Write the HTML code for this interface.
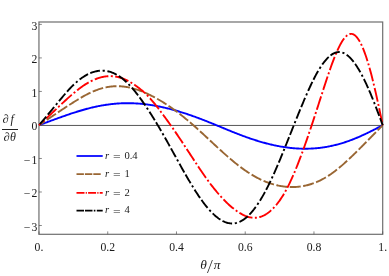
<!DOCTYPE html>
<html><head><meta charset="utf-8"><title>plot</title>
<style>
html,body{margin:0;padding:0;background:#fff;}
body{width:389px;height:276px;position:relative;overflow:hidden;font-family:"Liberation Serif",serif;color:#1a1a1a;}
.t{position:absolute;white-space:nowrap;line-height:1;filter:grayscale(1);}
.yl{font-size:11.7px;text-align:right;width:30px;left:7.4px;}
.xl{font-size:11.7px;text-align:center;width:40px;}
.lg{font-size:10.6px;}
i{font-style:italic;}
.eq{display:inline-block;transform:scaleX(1.28);transform-origin:0 50%;}
</style></head><body>
<svg width="389" height="276" viewBox="0 0 389 276" style="position:absolute;left:0;top:0">
<line x1="38.95" x2="382.7" y1="125.45" y2="125.45" stroke="#444" stroke-width="0.9"/>
<rect x="38.95" y="22.0" width="343.75" height="212.30" fill="none" stroke="#6e6e6e" stroke-width="1.2"/>
<path d="M38.95 225.51h2.9 M38.95 191.99h2.9 M38.95 158.47h2.9 M38.95 124.95h2.9 M38.95 91.43h2.9 M38.95 57.91h2.9 M38.95 24.39h2.9 M39.00 234.3v-2.9 M107.74 234.3v-2.9 M176.48 234.3v-2.9 M245.22 234.3v-2.9 M313.96 234.3v-2.9 M382.70 234.3v-2.9" stroke="#555" stroke-width="0.7" fill="none"/>
<g fill="none" stroke-width="1.9" stroke-linejoin="round">
<polyline points="39.00,125.20 39.86,124.87 40.72,124.55 41.58,124.23 42.44,123.91 43.30,123.59 44.16,123.27 45.01,122.95 45.87,122.63 46.73,122.31 47.59,121.99 48.45,121.68 49.31,121.36 50.17,121.04 51.03,120.72 51.89,120.41 52.75,120.09 53.61,119.78 54.47,119.46 55.33,119.15 56.19,118.84 57.04,118.53 57.90,118.22 58.76,117.91 59.62,117.60 60.48,117.29 61.34,116.99 62.20,116.68 63.06,116.38 63.92,116.08 64.78,115.78 65.64,115.48 66.50,115.18 67.36,114.88 68.21,114.59 69.07,114.30 69.93,114.01 70.79,113.72 71.65,113.44 72.51,113.16 73.37,112.88 74.23,112.60 75.09,112.32 75.95,112.05 76.81,111.78 77.67,111.51 78.53,111.25 79.38,110.99 80.24,110.73 81.10,110.48 81.96,110.23 82.82,109.98 83.68,109.73 84.54,109.49 85.40,109.26 86.26,109.02 87.12,108.79 87.98,108.57 88.84,108.35 89.70,108.13 90.56,107.91 91.41,107.70 92.27,107.50 93.13,107.30 93.99,107.10 94.85,106.90 95.71,106.72 96.57,106.53 97.43,106.35 98.29,106.18 99.15,106.01 100.01,105.84 100.87,105.68 101.73,105.52 102.58,105.37 103.44,105.23 104.30,105.08 105.16,104.95 106.02,104.81 106.88,104.69 107.74,104.57 108.60,104.45 109.46,104.34 110.32,104.23 111.18,104.13 112.04,104.03 112.90,103.94 113.75,103.85 114.61,103.77 115.47,103.69 116.33,103.62 117.19,103.56 118.05,103.50 118.91,103.44 119.77,103.39 120.63,103.35 121.49,103.31 122.35,103.27 123.21,103.24 124.07,103.22 124.92,103.20 125.78,103.19 126.64,103.18 127.50,103.18 128.36,103.18 129.22,103.19 130.08,103.20 130.94,103.22 131.80,103.24 132.66,103.27 133.52,103.30 134.38,103.34 135.24,103.38 136.10,103.43 136.95,103.48 137.81,103.54 138.67,103.60 139.53,103.67 140.39,103.74 141.25,103.82 142.11,103.90 142.97,103.99 143.83,104.08 144.69,104.18 145.55,104.28 146.41,104.39 147.27,104.50 148.12,104.61 148.98,104.73 149.84,104.86 150.70,104.99 151.56,105.12 152.42,105.26 153.28,105.40 154.14,105.55 155.00,105.70 155.86,105.86 156.72,106.02 157.58,106.18 158.44,106.35 159.30,106.52 160.15,106.70 161.01,106.88 161.87,107.07 162.73,107.25 163.59,107.45 164.45,107.64 165.31,107.84 166.17,108.05 167.03,108.25 167.89,108.47 168.75,108.68 169.61,108.90 170.47,109.12 171.32,109.35 172.18,109.58 173.04,109.81 173.90,110.04 174.76,110.28 175.62,110.53 176.48,110.77 177.34,111.02 178.20,111.27 179.06,111.53 179.92,111.79 180.78,112.05 181.64,112.32 182.49,112.58 183.35,112.86 184.21,113.13 185.07,113.41 185.93,113.69 186.79,113.97 187.65,114.26 188.51,114.55 189.37,114.84 190.23,115.14 191.09,115.44 191.95,115.74 192.81,116.04 193.66,116.35 194.52,116.66 195.38,116.97 196.24,117.28 197.10,117.60 197.96,117.92 198.82,118.24 199.68,118.56 200.54,118.89 201.40,119.22 202.26,119.55 203.12,119.88 203.98,120.22 204.84,120.55 205.69,120.89 206.55,121.23 207.41,121.57 208.27,121.91 209.13,122.26 209.99,122.60 210.85,122.95 211.71,123.30 212.57,123.65 213.43,124.00 214.29,124.35 215.15,124.70 216.01,125.06 216.86,125.41 217.72,125.76 218.58,126.12 219.44,126.47 220.30,126.83 221.16,127.18 222.02,127.54 222.88,127.90 223.74,128.25 224.60,128.61 225.46,128.96 226.32,129.32 227.18,129.67 228.03,130.02 228.89,130.37 229.75,130.72 230.61,131.07 231.47,131.42 232.33,131.77 233.19,132.11 234.05,132.46 234.91,132.80 235.77,133.14 236.63,133.47 237.49,133.81 238.35,134.14 239.21,134.47 240.06,134.80 240.92,135.13 241.78,135.45 242.64,135.77 243.50,136.09 244.36,136.41 245.22,136.72 246.08,137.03 246.94,137.34 247.80,137.64 248.66,137.94 249.52,138.24 250.38,138.54 251.23,138.83 252.09,139.12 252.95,139.40 253.81,139.68 254.67,139.96 255.53,140.24 256.39,140.51 257.25,140.78 258.11,141.04 258.97,141.30 259.83,141.56 260.69,141.81 261.55,142.06 262.40,142.30 263.26,142.55 264.12,142.78 264.98,143.02 265.84,143.24 266.70,143.47 267.56,143.69 268.42,143.91 269.28,144.12 270.14,144.33 271.00,144.53 271.86,144.73 272.72,144.93 273.58,145.12 274.43,145.31 275.29,145.49 276.15,145.67 277.01,145.84 277.87,146.01 278.73,146.17 279.59,146.33 280.45,146.49 281.31,146.63 282.17,146.78 283.03,146.92 283.89,147.05 284.75,147.18 285.60,147.31 286.46,147.43 287.32,147.54 288.18,147.65 289.04,147.76 289.90,147.86 290.76,147.95 291.62,148.04 292.48,148.13 293.34,148.20 294.20,148.28 295.06,148.35 295.92,148.41 296.77,148.46 297.63,148.52 298.49,148.56 299.35,148.60 300.21,148.64 301.07,148.67 301.93,148.69 302.79,148.71 303.65,148.72 304.51,148.73 305.37,148.73 306.23,148.72 307.09,148.71 307.95,148.69 308.80,148.67 309.66,148.64 310.52,148.61 311.38,148.57 312.24,148.52 313.10,148.47 313.96,148.41 314.82,148.35 315.68,148.28 316.54,148.20 317.40,148.12 318.26,148.03 319.12,147.94 319.97,147.84 320.83,147.73 321.69,147.62 322.55,147.50 323.41,147.38 324.27,147.25 325.13,147.11 325.99,146.97 326.85,146.82 327.71,146.66 328.57,146.50 329.43,146.34 330.29,146.16 331.14,145.98 332.00,145.80 332.86,145.61 333.72,145.41 334.58,145.20 335.44,144.99 336.30,144.78 337.16,144.56 338.02,144.33 338.88,144.09 339.74,143.85 340.60,143.60 341.46,143.35 342.32,143.09 343.17,142.82 344.03,142.55 344.89,142.27 345.75,141.98 346.61,141.69 347.47,141.39 348.33,141.09 349.19,140.78 350.05,140.47 350.91,140.15 351.77,139.82 352.63,139.49 353.49,139.15 354.34,138.81 355.20,138.46 356.06,138.11 356.92,137.75 357.78,137.38 358.64,137.01 359.50,136.64 360.36,136.26 361.22,135.88 362.08,135.49 362.94,135.10 363.80,134.71 364.66,134.31 365.51,133.90 366.37,133.49 367.23,133.08 368.09,132.67 368.95,132.25 369.81,131.83 370.67,131.40 371.53,130.97 372.39,130.54 373.25,130.11 374.11,129.67 374.97,129.24 375.83,128.80 376.69,128.36 377.54,127.91 378.40,127.47 379.26,127.03 380.12,126.58 380.98,126.14 381.84,125.69 382.70,125.20" stroke="#0000ff"/>
<polyline points="39.00,125.20 39.86,124.61 40.72,124.03 41.58,123.45 42.44,122.87 43.30,122.29 44.16,121.70 45.01,121.12 45.87,120.54 46.73,119.96 47.59,119.38 48.45,118.80 49.31,118.22 50.17,117.64 51.03,117.06 51.89,116.48 52.75,115.90 53.61,115.32 54.47,114.74 55.33,114.17 56.19,113.59 57.04,113.01 57.90,112.44 58.76,111.87 59.62,111.29 60.48,110.72 61.34,110.15 62.20,109.58 63.06,109.02 63.92,108.45 64.78,107.89 65.64,107.32 66.50,106.76 67.36,106.20 68.21,105.65 69.07,105.09 69.93,104.54 70.79,103.99 71.65,103.44 72.51,102.89 73.37,102.35 74.23,101.81 75.09,101.28 75.95,100.75 76.81,100.22 77.67,99.70 78.53,99.18 79.38,98.66 80.24,98.15 81.10,97.65 81.96,97.15 82.82,96.66 83.68,96.18 84.54,95.70 85.40,95.23 86.26,94.77 87.12,94.32 87.98,93.88 88.84,93.45 89.70,93.03 90.56,92.62 91.41,92.22 92.27,91.84 93.13,91.46 93.99,91.10 94.85,90.75 95.71,90.41 96.57,90.08 97.43,89.77 98.29,89.47 99.15,89.18 100.01,88.90 100.87,88.64 101.73,88.39 102.58,88.16 103.44,87.94 104.30,87.73 105.16,87.54 106.02,87.35 106.88,87.19 107.74,87.03 108.60,86.89 109.46,86.76 110.32,86.65 111.18,86.54 112.04,86.46 112.90,86.38 113.75,86.32 114.61,86.27 115.47,86.24 116.33,86.22 117.19,86.21 118.05,86.22 118.91,86.24 119.77,86.27 120.63,86.31 121.49,86.37 122.35,86.45 123.21,86.53 124.07,86.63 124.92,86.74 125.78,86.87 126.64,87.00 127.50,87.15 128.36,87.32 129.22,87.49 130.08,87.68 130.94,87.88 131.80,88.09 132.66,88.31 133.52,88.55 134.38,88.80 135.24,89.05 136.10,89.32 136.95,89.60 137.81,89.89 138.67,90.19 139.53,90.50 140.39,90.82 141.25,91.15 142.11,91.49 142.97,91.84 143.83,92.20 144.69,92.57 145.55,92.94 146.41,93.32 147.27,93.71 148.12,94.11 148.98,94.52 149.84,94.94 150.70,95.36 151.56,95.79 152.42,96.23 153.28,96.67 154.14,97.12 155.00,97.58 155.86,98.05 156.72,98.53 157.58,99.01 158.44,99.50 159.30,99.99 160.15,100.50 161.01,101.01 161.87,101.53 162.73,102.05 163.59,102.59 164.45,103.13 165.31,103.68 166.17,104.23 167.03,104.79 167.89,105.36 168.75,105.94 169.61,106.53 170.47,107.12 171.32,107.72 172.18,108.32 173.04,108.94 173.90,109.56 174.76,110.18 175.62,110.82 176.48,111.46 177.34,112.10 178.20,112.76 179.06,113.42 179.92,114.08 180.78,114.76 181.64,115.43 182.49,116.12 183.35,116.81 184.21,117.50 185.07,118.21 185.93,118.91 186.79,119.63 187.65,120.34 188.51,121.07 189.37,121.80 190.23,122.53 191.09,123.27 191.95,124.02 192.81,124.76 193.66,125.52 194.52,126.28 195.38,127.04 196.24,127.81 197.10,128.58 197.96,129.35 198.82,130.13 199.68,130.91 200.54,131.70 201.40,132.49 202.26,133.28 203.12,134.07 203.98,134.86 204.84,135.66 205.69,136.46 206.55,137.26 207.41,138.06 208.27,138.86 209.13,139.66 209.99,140.46 210.85,141.26 211.71,142.06 212.57,142.86 213.43,143.66 214.29,144.46 215.15,145.26 216.01,146.05 216.86,146.85 217.72,147.64 218.58,148.43 219.44,149.22 220.30,150.00 221.16,150.78 222.02,151.56 222.88,152.34 223.74,153.11 224.60,153.88 225.46,154.64 226.32,155.40 227.18,156.15 228.03,156.90 228.89,157.65 229.75,158.38 230.61,159.12 231.47,159.84 232.33,160.56 233.19,161.28 234.05,161.99 234.91,162.69 235.77,163.38 236.63,164.06 237.49,164.74 238.35,165.41 239.21,166.07 240.06,166.73 240.92,167.37 241.78,168.01 242.64,168.64 243.50,169.26 244.36,169.87 245.22,170.47 246.08,171.06 246.94,171.64 247.80,172.21 248.66,172.77 249.52,173.33 250.38,173.87 251.23,174.40 252.09,174.92 252.95,175.43 253.81,175.93 254.67,176.42 255.53,176.90 256.39,177.37 257.25,177.82 258.11,178.27 258.97,178.70 259.83,179.12 260.69,179.54 261.55,179.94 262.40,180.33 263.26,180.70 264.12,181.07 264.98,181.43 265.84,181.77 266.70,182.11 267.56,182.43 268.42,182.74 269.28,183.05 270.14,183.34 271.00,183.62 271.86,183.89 272.72,184.14 273.58,184.39 274.43,184.63 275.29,184.85 276.15,185.07 277.01,185.27 277.87,185.47 278.73,185.65 279.59,185.82 280.45,185.98 281.31,186.13 282.17,186.27 283.03,186.40 283.89,186.51 284.75,186.62 285.60,186.71 286.46,186.79 287.32,186.86 288.18,186.92 289.04,186.97 289.90,187.01 290.76,187.03 291.62,187.05 292.48,187.05 293.34,187.04 294.20,187.01 295.06,186.98 295.92,186.93 296.77,186.88 297.63,186.81 298.49,186.72 299.35,186.63 300.21,186.52 301.07,186.40 301.93,186.27 302.79,186.13 303.65,185.97 304.51,185.80 305.37,185.62 306.23,185.42 307.09,185.21 307.95,184.99 308.80,184.76 309.66,184.51 310.52,184.25 311.38,183.98 312.24,183.70 313.10,183.40 313.96,183.08 314.82,182.76 315.68,182.42 316.54,182.07 317.40,181.70 318.26,181.32 319.12,180.93 319.97,180.52 320.83,180.10 321.69,179.66 322.55,179.21 323.41,178.75 324.27,178.27 325.13,177.78 325.99,177.28 326.85,176.76 327.71,176.22 328.57,175.67 329.43,175.11 330.29,174.53 331.14,173.94 332.00,173.34 332.86,172.72 333.72,172.08 334.58,171.44 335.44,170.78 336.30,170.11 337.16,169.43 338.02,168.74 338.88,168.03 339.74,167.32 340.60,166.59 341.46,165.86 342.32,165.12 343.17,164.36 344.03,163.60 344.89,162.83 345.75,162.05 346.61,161.27 347.47,160.47 348.33,159.67 349.19,158.87 350.05,158.05 350.91,157.23 351.77,156.41 352.63,155.58 353.49,154.75 354.34,153.91 355.20,153.07 356.06,152.22 356.92,151.37 357.78,150.52 358.64,149.67 359.50,148.81 360.36,147.95 361.22,147.09 362.08,146.23 362.94,145.37 363.80,144.50 364.66,143.64 365.51,142.77 366.37,141.90 367.23,141.03 368.09,140.16 368.95,139.28 369.81,138.41 370.67,137.53 371.53,136.66 372.39,135.78 373.25,134.90 374.11,134.02 374.97,133.14 375.83,132.26 376.69,131.38 377.54,130.50 378.40,129.62 379.26,128.74 380.12,127.85 380.98,126.97 381.84,126.09 382.70,125.20" stroke="#996633" stroke-dasharray="11 2.5" stroke-dashoffset="4.05"/>
<polyline points="39.00,125.20 39.86,124.41 40.72,123.61 41.58,122.81 42.44,122.02 43.30,121.22 44.16,120.42 45.01,119.62 45.87,118.82 46.73,118.02 47.59,117.22 48.45,116.41 49.31,115.61 50.17,114.80 51.03,113.99 51.89,113.18 52.75,112.36 53.61,111.55 54.47,110.74 55.33,109.92 56.19,109.11 57.04,108.30 57.90,107.48 58.76,106.67 59.62,105.86 60.48,105.05 61.34,104.24 62.20,103.43 63.06,102.63 63.92,101.83 64.78,101.04 65.64,100.24 66.50,99.46 67.36,98.67 68.21,97.90 69.07,97.13 69.93,96.36 70.79,95.61 71.65,94.86 72.51,94.12 73.37,93.39 74.23,92.66 75.09,91.95 75.95,91.25 76.81,90.56 77.67,89.88 78.53,89.21 79.38,88.55 80.24,87.91 81.10,87.28 81.96,86.67 82.82,86.07 83.68,85.48 84.54,84.91 85.40,84.36 86.26,83.82 87.12,83.31 87.98,82.80 88.84,82.32 89.70,81.85 90.56,81.40 91.41,80.96 92.27,80.55 93.13,80.15 93.99,79.77 94.85,79.41 95.71,79.06 96.57,78.74 97.43,78.43 98.29,78.14 99.15,77.87 100.01,77.62 100.87,77.39 101.73,77.18 102.58,76.99 103.44,76.81 104.30,76.66 105.16,76.53 106.02,76.41 106.88,76.32 107.74,76.25 108.60,76.20 109.46,76.17 110.32,76.16 111.18,76.17 112.04,76.20 112.90,76.26 113.75,76.33 114.61,76.43 115.47,76.55 116.33,76.69 117.19,76.86 118.05,77.04 118.91,77.25 119.77,77.49 120.63,77.74 121.49,78.02 122.35,78.32 123.21,78.65 124.07,79.00 124.92,79.37 125.78,79.76 126.64,80.18 127.50,80.61 128.36,81.07 129.22,81.54 130.08,82.03 130.94,82.54 131.80,83.07 132.66,83.61 133.52,84.16 134.38,84.73 135.24,85.32 136.10,85.92 136.95,86.54 137.81,87.17 138.67,87.83 139.53,88.49 140.39,89.18 141.25,89.88 142.11,90.60 142.97,91.34 143.83,92.10 144.69,92.88 145.55,93.68 146.41,94.51 147.27,95.37 148.12,96.24 148.98,97.15 149.84,98.08 150.70,99.04 151.56,100.02 152.42,101.02 153.28,102.04 154.14,103.09 155.00,104.14 155.86,105.22 156.72,106.31 157.58,107.42 158.44,108.53 159.30,109.66 160.15,110.80 161.01,111.95 161.87,113.11 162.73,114.27 163.59,115.44 164.45,116.61 165.31,117.78 166.17,118.96 167.03,120.15 167.89,121.33 168.75,122.52 169.61,123.72 170.47,124.93 171.32,126.15 172.18,127.37 173.04,128.60 173.90,129.84 174.76,131.09 175.62,132.35 176.48,133.61 177.34,134.88 178.20,136.16 179.06,137.44 179.92,138.72 180.78,140.01 181.64,141.31 182.49,142.61 183.35,143.91 184.21,145.21 185.07,146.52 185.93,147.83 186.79,149.14 187.65,150.45 188.51,151.77 189.37,153.08 190.23,154.39 191.09,155.71 191.95,157.02 192.81,158.33 193.66,159.63 194.52,160.94 195.38,162.24 196.24,163.54 197.10,164.84 197.96,166.13 198.82,167.41 199.68,168.70 200.54,169.97 201.40,171.24 202.26,172.49 203.12,173.74 203.98,174.98 204.84,176.21 205.69,177.43 206.55,178.63 207.41,179.82 208.27,181.00 209.13,182.16 209.99,183.31 210.85,184.45 211.71,185.57 212.57,186.68 213.43,187.77 214.29,188.84 215.15,189.90 216.01,190.95 216.86,191.98 217.72,193.00 218.58,194.00 219.44,194.98 220.30,195.95 221.16,196.90 222.02,197.83 222.88,198.75 223.74,199.65 224.60,200.53 225.46,201.40 226.32,202.25 227.18,203.08 228.03,203.89 228.89,204.68 229.75,205.45 230.61,206.21 231.47,206.94 232.33,207.66 233.19,208.35 234.05,209.03 234.91,209.68 235.77,210.32 236.63,210.93 237.49,211.53 238.35,212.10 239.21,212.65 240.06,213.18 240.92,213.68 241.78,214.16 242.64,214.61 243.50,215.04 244.36,215.43 245.22,215.81 246.08,216.15 246.94,216.46 247.80,216.74 248.66,216.99 249.52,217.21 250.38,217.39 251.23,217.54 252.09,217.66 252.95,217.74 253.81,217.78 254.67,217.79 255.53,217.75 256.39,217.68 257.25,217.57 258.11,217.42 258.97,217.24 259.83,217.01 260.69,216.74 261.55,216.44 262.40,216.09 263.26,215.70 264.12,215.28 264.98,214.81 265.84,214.31 266.70,213.76 267.56,213.17 268.42,212.55 269.28,211.88 270.14,211.17 271.00,210.41 271.86,209.62 272.72,208.79 273.58,207.91 274.43,206.99 275.29,206.03 276.15,205.03 277.01,203.98 277.87,202.90 278.73,201.76 279.59,200.59 280.45,199.36 281.31,198.09 282.17,196.77 283.03,195.40 283.89,193.97 284.75,192.49 285.60,190.96 286.46,189.38 287.32,187.74 288.18,186.06 289.04,184.33 289.90,182.55 290.76,180.72 291.62,178.85 292.48,176.94 293.34,174.98 294.20,172.98 295.06,170.94 295.92,168.86 296.77,166.75 297.63,164.60 298.49,162.41 299.35,160.19 300.21,157.94 301.07,155.65 301.93,153.34 302.79,150.99 303.65,148.62 304.51,146.22 305.37,143.79 306.23,141.34 307.09,138.87 307.95,136.38 308.80,133.86 309.66,131.33 310.52,128.78 311.38,126.21 312.24,123.62 313.10,121.02 313.96,118.41 314.82,115.79 315.68,113.15 316.54,110.51 317.40,107.86 318.26,105.21 319.12,102.56 319.97,99.90 320.83,97.24 321.69,94.59 322.55,91.93 323.41,89.29 324.27,86.65 325.13,84.02 325.99,81.40 326.85,78.81 327.71,76.24 328.57,73.70 329.43,71.19 330.29,68.73 331.14,66.31 332.00,63.93 332.86,61.62 333.72,59.36 334.58,57.16 335.44,55.04 336.30,52.99 337.16,51.01 338.02,49.12 338.88,47.32 339.74,45.61 340.60,44.00 341.46,42.49 342.32,41.09 343.17,39.80 344.03,38.62 344.89,37.57 345.75,36.63 346.61,35.83 347.47,35.16 348.33,34.62 349.19,34.22 350.05,33.96 350.91,33.85 351.77,33.89 352.63,34.08 353.49,34.43 354.34,34.94 355.20,35.59 356.06,36.40 356.92,37.35 357.78,38.46 358.64,39.72 359.50,41.12 360.36,42.67 361.22,44.37 362.08,46.22 362.94,48.20 363.80,50.33 364.66,52.59 365.51,54.99 366.37,57.52 367.23,60.18 368.09,62.97 368.95,65.89 369.81,68.92 370.67,72.07 371.53,75.34 372.39,78.71 373.25,82.19 374.11,85.76 374.97,89.42 375.83,93.16 376.69,96.98 377.54,100.87 378.40,104.82 379.26,108.81 380.12,112.85 380.98,116.92 381.84,121.00 382.70,125.20" stroke="#ff0000" stroke-dasharray="14 2.43 2 2.44" stroke-dashoffset="10.96"/>
<polyline points="39.00,125.20 39.86,124.19 40.72,123.17 41.58,122.16 42.44,121.14 43.30,120.12 44.16,119.10 45.01,118.08 45.87,117.05 46.73,116.02 47.59,114.99 48.45,113.96 49.31,112.92 50.17,111.88 51.03,110.84 51.89,109.80 52.75,108.75 53.61,107.70 54.47,106.65 55.33,105.60 56.19,104.56 57.04,103.51 57.90,102.46 58.76,101.42 59.62,100.38 60.48,99.34 61.34,98.31 62.20,97.28 63.06,96.26 63.92,95.25 64.78,94.25 65.64,93.26 66.50,92.28 67.36,91.31 68.21,90.36 69.07,89.42 69.93,88.50 70.79,87.59 71.65,86.71 72.51,85.85 73.37,85.00 74.23,84.19 75.09,83.39 75.95,82.61 76.81,81.86 77.67,81.13 78.53,80.43 79.38,79.74 80.24,79.08 81.10,78.45 81.96,77.83 82.82,77.24 83.68,76.68 84.54,76.14 85.40,75.62 86.26,75.13 87.12,74.66 87.98,74.22 88.84,73.80 89.70,73.41 90.56,73.04 91.41,72.70 92.27,72.39 93.13,72.10 93.99,71.83 94.85,71.59 95.71,71.38 96.57,71.20 97.43,71.04 98.29,70.90 99.15,70.80 100.01,70.72 100.87,70.67 101.73,70.65 102.58,70.65 103.44,70.68 104.30,70.74 105.16,70.83 106.02,70.94 106.88,71.08 107.74,71.26 108.60,71.45 109.46,71.68 110.32,71.94 111.18,72.22 112.04,72.53 112.90,72.87 113.75,73.24 114.61,73.64 115.47,74.07 116.33,74.53 117.19,75.01 118.05,75.52 118.91,76.07 119.77,76.64 120.63,77.24 121.49,77.87 122.35,78.53 123.21,79.22 124.07,79.94 124.92,80.68 125.78,81.46 126.64,82.26 127.50,83.09 128.36,83.94 129.22,84.82 130.08,85.73 130.94,86.67 131.80,87.63 132.66,88.61 133.52,89.62 134.38,90.66 135.24,91.71 136.10,92.79 136.95,93.89 137.81,95.00 138.67,96.14 139.53,97.30 140.39,98.47 141.25,99.67 142.11,100.87 142.97,102.10 143.83,103.34 144.69,104.59 145.55,105.85 146.41,107.13 147.27,108.43 148.12,109.73 148.98,111.05 149.84,112.38 150.70,113.72 151.56,115.08 152.42,116.44 153.28,117.82 154.14,119.21 155.00,120.62 155.86,122.03 156.72,123.46 157.58,124.89 158.44,126.34 159.30,127.80 160.15,129.27 161.01,130.75 161.87,132.23 162.73,133.73 163.59,135.24 164.45,136.75 165.31,138.27 166.17,139.79 167.03,141.32 167.89,142.86 168.75,144.40 169.61,145.94 170.47,147.49 171.32,149.04 172.18,150.59 173.04,152.15 173.90,153.70 174.76,155.26 175.62,156.82 176.48,158.37 177.34,159.93 178.20,161.48 179.06,163.04 179.92,164.58 180.78,166.13 181.64,167.67 182.49,169.20 183.35,170.73 184.21,172.24 185.07,173.75 185.93,175.25 186.79,176.74 187.65,178.22 188.51,179.69 189.37,181.14 190.23,182.59 191.09,184.02 191.95,185.43 192.81,186.83 193.66,188.22 194.52,189.59 195.38,190.94 196.24,192.27 197.10,193.59 197.96,194.88 198.82,196.16 199.68,197.41 200.54,198.65 201.40,199.86 202.26,201.05 203.12,202.21 203.98,203.36 204.84,204.47 205.69,205.56 206.55,206.62 207.41,207.66 208.27,208.67 209.13,209.65 209.99,210.60 210.85,211.52 211.71,212.41 212.57,213.28 213.43,214.11 214.29,214.91 215.15,215.67 216.01,216.41 216.86,217.11 217.72,217.78 218.58,218.41 219.44,219.01 220.30,219.57 221.16,220.10 222.02,220.59 222.88,221.05 223.74,221.46 224.60,221.84 225.46,222.18 226.32,222.48 227.18,222.75 228.03,222.97 228.89,223.15 229.75,223.29 230.61,223.38 231.47,223.44 232.33,223.45 233.19,223.42 234.05,223.35 234.91,223.23 235.77,223.06 236.63,222.86 237.49,222.61 238.35,222.32 239.21,221.98 240.06,221.60 240.92,221.17 241.78,220.70 242.64,220.19 243.50,219.63 244.36,219.02 245.22,218.38 246.08,217.68 246.94,216.95 247.80,216.17 248.66,215.34 249.52,214.47 250.38,213.55 251.23,212.60 252.09,211.60 252.95,210.56 253.81,209.49 254.67,208.37 255.53,207.22 256.39,206.03 257.25,204.80 258.11,203.53 258.97,202.23 259.83,200.89 260.69,199.51 261.55,198.09 262.40,196.63 263.26,195.14 264.12,193.61 264.98,192.04 265.84,190.43 266.70,188.79 267.56,187.11 268.42,185.39 269.28,183.65 270.14,181.87 271.00,180.06 271.86,178.23 272.72,176.36 273.58,174.47 274.43,172.55 275.29,170.61 276.15,168.65 277.01,166.66 277.87,164.66 278.73,162.63 279.59,160.59 280.45,158.53 281.31,156.45 282.17,154.36 283.03,152.26 283.89,150.15 284.75,148.03 285.60,145.89 286.46,143.75 287.32,141.61 288.18,139.45 289.04,137.30 289.90,135.14 290.76,132.98 291.62,130.82 292.48,128.66 293.34,126.50 294.20,124.35 295.06,122.20 295.92,120.05 296.77,117.92 297.63,115.79 298.49,113.67 299.35,111.57 300.21,109.47 301.07,107.39 301.93,105.33 302.79,103.28 303.65,101.25 304.51,99.23 305.37,97.24 306.23,95.26 307.09,93.31 307.95,91.39 308.80,89.49 309.66,87.61 310.52,85.76 311.38,83.94 312.24,82.16 313.10,80.41 313.96,78.70 314.82,77.02 315.68,75.39 316.54,73.81 317.40,72.27 318.26,70.79 319.12,69.35 319.97,67.97 320.83,66.63 321.69,65.35 322.55,64.13 323.41,62.96 324.27,61.84 325.13,60.78 325.99,59.77 326.85,58.82 327.71,57.93 328.57,57.10 329.43,56.33 330.29,55.62 331.14,54.96 332.00,54.38 332.86,53.85 333.72,53.39 334.58,53.00 335.44,52.67 336.30,52.41 337.16,52.22 338.02,52.10 338.88,52.05 339.74,52.07 340.60,52.16 341.46,52.32 342.32,52.56 343.17,52.86 344.03,53.23 344.89,53.67 345.75,54.18 346.61,54.76 347.47,55.40 348.33,56.10 349.19,56.87 350.05,57.70 350.91,58.60 351.77,59.55 352.63,60.57 353.49,61.65 354.34,62.79 355.20,63.99 356.06,65.24 356.92,66.54 357.78,67.90 358.64,69.32 359.50,70.78 360.36,72.29 361.22,73.86 362.08,75.47 362.94,77.12 363.80,78.83 364.66,80.57 365.51,82.37 366.37,84.20 367.23,86.08 368.09,88.00 368.95,89.95 369.81,91.95 370.67,93.98 371.53,96.05 372.39,98.16 373.25,100.30 374.11,102.46 374.97,104.65 375.83,106.87 376.69,109.11 377.54,111.36 378.40,113.64 379.26,115.92 380.12,118.22 380.98,120.52 381.84,122.83 382.70,125.20" stroke="#000000" stroke-dasharray="10 2.4 10 2.7 2.2 2.67" stroke-dashoffset="28.69"/>
</g>
<g fill="none" stroke-width="1.75">
<line x1="76.5" x2="102.7" y1="156.0" y2="156.0" stroke="#0000ff"/>
<line x1="76.5" x2="100.7" y1="174.1" y2="174.1" stroke="#996633" stroke-dasharray="7.4 1"/>
<line x1="76.5" x2="102.7" y1="192.9" y2="192.9" stroke="#ff0000" stroke-dasharray="8 1.2 1.2 1.2"/>
<line x1="76.5" x2="102.7" y1="210.5" y2="210.5" stroke="#000" stroke-dasharray="7.5 1 7.5 1.3 1.6 1.4"/>
</g>
</svg>
<div class="t yl" style="top:221.9px"><span style="margin-right:1.3px">−</span>3</div>
<div class="t yl" style="top:188.3px"><span style="margin-right:1.3px">−</span>2</div>
<div class="t yl" style="top:154.8px"><span style="margin-right:1.3px">−</span>1</div>
<div class="t yl" style="top:121.3px">0</div>
<div class="t yl" style="top:87.8px">1</div>
<div class="t yl" style="top:54.3px">2</div>
<div class="t yl" style="top:20.7px">3</div>
<div class="t xl" style="left:19.0px;top:242px">0.</div>
<div class="t xl" style="left:87.7px;top:242px">0.2</div>
<div class="t xl" style="left:156.5px;top:242px">0.4</div>
<div class="t xl" style="left:225.2px;top:242px">0.6</div>
<div class="t xl" style="left:294.0px;top:242px">0.8</div>
<div class="t xl" style="left:362.7px;top:242px">1.</div>
<div class="t lg" style="left:105.1px;top:150.7px"><i>r</i></div>
<div class="t lg" style="left:113.4px;top:152.3px"><span class="eq">=</span></div>
<div class="t lg" style="left:124.4px;top:150.7px">0.4</div>
<div class="t lg" style="left:105.1px;top:168.8px"><i>r</i></div>
<div class="t lg" style="left:113.4px;top:170.4px"><span class="eq">=</span></div>
<div class="t lg" style="left:124.4px;top:168.8px">1</div>
<div class="t lg" style="left:105.1px;top:187.6px"><i>r</i></div>
<div class="t lg" style="left:113.4px;top:189.2px"><span class="eq">=</span></div>
<div class="t lg" style="left:124.4px;top:187.6px">2</div>
<div class="t lg" style="left:105.1px;top:205.2px"><i>r</i></div>
<div class="t lg" style="left:113.4px;top:206.8px"><span class="eq">=</span></div>
<div class="t lg" style="left:124.4px;top:205.2px">4</div>
<div class="t" style="left:200.3px;top:258.2px;font-size:13.4px"><i>θ</i></div>
<div class="t" style="left:207.2px;top:256.6px;font-size:19px"><i style="display:inline-block;transform:scaleX(0.74)">/</i></div>
<div class="t" style="left:213.8px;top:258.2px;font-size:13.4px"><i>π</i></div>
<div class="t" style="left:2.7px;top:112.5px;font-size:12px"><i>∂</i></div>
<div class="t" style="left:10.6px;top:112.8px;font-size:12px"><i>f</i></div>
<div class="t" style="left:2px;top:129.1px;width:15.9px;height:0;border-top:0.9px solid #222"></div>
<div class="t" style="left:3.8px;top:130.6px;font-size:12px"><i>∂</i></div>
<div class="t" style="left:10px;top:130.6px;font-size:12px"><i>θ</i></div>
</body></html>
